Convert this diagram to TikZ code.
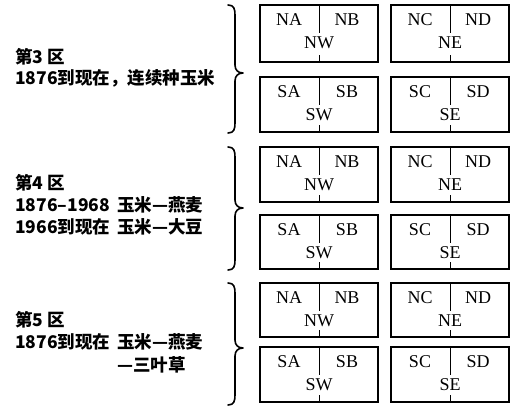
\documentclass[tikz,border=0pt]{standalone}
\usepackage{fontspec}
\setmainfont{Liberation Serif}
\newfontfamily\cjk{Noto Sans CJK SC}
\usetikzlibrary{calc}
\tikzset{
  plotrect/.style={draw, line width=1.4pt, inner sep=0pt, outer sep=0pt, minimum width=118pt, anchor=north west},
  divider/.style={line width=0.9pt},
  plotlbl/.style={inner sep=0pt, font=\fontsize{18pt}{20pt}\selectfont},
  zonetxt/.style={inner sep=0pt, anchor=base west, font=\cjk\bfseries\fontsize{17.5pt}{20pt}\selectfont},
  bracestyle/.style={line width=1.6pt, line cap=round, line join=round}
}
\newcommand{\plotbox}[7]{%
  \node[plotrect, minimum height=#4pt] (#1) at (#2,#3) {};
  \draw[divider] (#1.north) -- ++(0,28);
  \draw[divider] (#1.south) -- ++(0,-7);
  \node[plotlbl] (#1a) at ($(#1.north west)+(29,15)$) {#5};
  \node[plotlbl] (#1b) at ($(#1.north west)+(87,15)$) {#6};
  \node[plotlbl] (#1c) at ($(#1.north west)+(59,38)$) {#7};
}
\newcommand{\zonebrace}[3]{%
  \draw[bracestyle] (228,#1) .. controls (234,#1) and (235,#1+4) .. (235,#1+10)
    -- (235,#3-8) .. controls (235,#3-3) and (238,#3) .. (243,#3)
    .. controls (238,#3) and (235,#3+3) .. (235,#3+8)
    -- (235,#2-10) .. controls (235,#2-4) and (234,#2) .. (228,#2);
}
\begin{document}
\begin{tikzpicture}[x=1pt,y=-1pt]
\useasboundingbox (0,0) rectangle (516,410);
% group 1
\plotbox{nwa}{260}{5}{57}{NA}{NB}{NW}
\plotbox{nea}{391}{5}{57}{NC}{ND}{NE}
\plotbox{swa}{260}{77}{55}{SA}{SB}{SW}
\plotbox{sea}{391}{77}{55}{SC}{SD}{SE}
% group 2
\plotbox{nwb}{260}{147}{55}{NA}{NB}{NW}
\plotbox{neb}{391}{147}{55}{NC}{ND}{NE}
\plotbox{swb}{260}{215}{54}{SA}{SB}{SW}
\plotbox{seb}{391}{215}{54}{SC}{SD}{SE}
% group 3
\plotbox{nwc}{260}{283}{54}{NA}{NB}{NW}
\plotbox{nec}{391}{283}{54}{NC}{ND}{NE}
\plotbox{swc}{260}{347}{55}{SA}{SB}{SW}
\plotbox{sec}{391}{347}{55}{SC}{SD}{SE}
% braces
\zonebrace{5}{133}{73}
\zonebrace{147}{270}{208}
\zonebrace{283}{405}{348}
% texts
\node[zonetxt] (t3a) at (15,63) {第3 区};
\node[zonetxt] (t3b) at (15,84) {1876到现在，连续种玉米};
\node[zonetxt] (t4a) at (15,189) {第4 区};
\node[zonetxt] (t4b) at (15,211) {1876–1968};
\node[zonetxt] (t4c) at (117,211) {玉米—燕麦};
\node[zonetxt] (t4d) at (15,233) {1966到现在};
\node[zonetxt] (t4e) at (117,233) {玉米—大豆};
\node[zonetxt] (t5a) at (15,326) {第5 区};
\node[zonetxt] (t5b) at (15,348) {1876到现在};
\node[zonetxt] (t5c) at (117,348) {玉米—燕麦};
\node[zonetxt] (t5d) at (117,371) {—三叶草};
\end{tikzpicture}
\end{document}
